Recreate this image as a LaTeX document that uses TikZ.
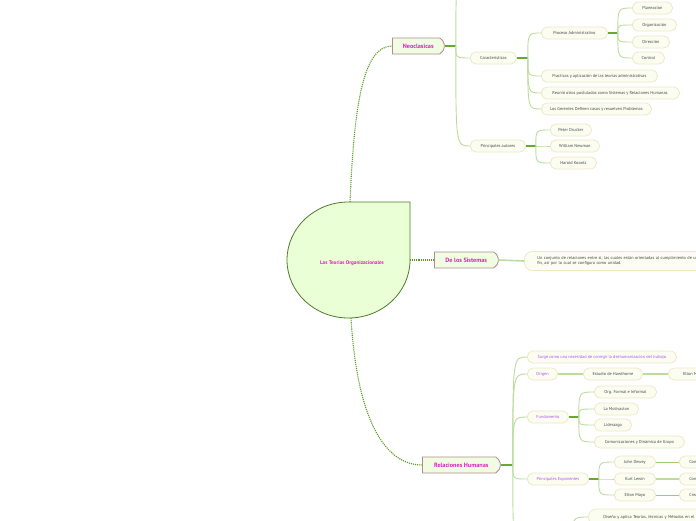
\documentclass[tikz,border=0pt]{standalone}
\usepackage{fontspec}
\setmainfont{PT Sans}
\usetikzlibrary{shapes.misc}
\definecolor{dotg}{HTML}{5A9A1E}
\definecolor{stubg}{HTML}{6AA830}
\definecolor{liteg}{HTML}{BCDC9C}
\definecolor{midg}{HTML}{9CCB70}
\definecolor{cfill}{HTML}{EAFFD6}
\definecolor{cborder}{HTML}{4E7A2E}
\definecolor{lfill}{HTML}{F0FDE2}
\definecolor{lborder}{HTML}{B08C8C}
\definecolor{magt}{HTML}{E020C0}
\definecolor{leaffill}{HTML}{FAFDF0}
\definecolor{leafborder}{HTML}{EEE8C6}
\definecolor{leaftext}{HTML}{484848}
\definecolor{purt}{HTML}{B050F0}
\tikzset{
  lone/.style={rounded rectangle, rounded rectangle left arc=none, rounded rectangle arc length=120,
    draw=lborder, fill=lfill, line width=0.8pt, minimum height=16pt, inner sep=0pt, anchor=west,
    text=magt, font=\fontsize{6.2}{7}\selectfont\bfseries},
  leaf/.style={rectangle, rounded corners=5.5pt, draw=leafborder, fill=leaffill, line width=0.8pt,
    minimum height=12pt, inner sep=0pt, anchor=west, text=leaftext, font=\fontsize{4.3}{5}\selectfont},
  pleaf/.style={leaf, text=purt},
  mainc/.style={draw=dotg, line width=1.1pt, densely dotted},
  stub/.style={draw=stubg, line width=1.6pt},
  lite/.style={draw=liteg, line width=0.9pt},
  liteth/.style={draw=liteg, line width=1.6pt},
  medl/.style={draw=midg, line width=1pt},
}
\begin{document}
\begin{tikzpicture}[x=1pt,y=-1pt]
\useasboundingbox (0,0) rectangle (696,520);
\clip (0,0) rectangle (696,520);
% central shape
\draw[draw=cborder, fill=cfill, line width=0.8pt] (410,202) -- (410,260)
  arc[start angle=0, end angle=270, x radius=61.5, y radius=58] -- cycle;
\node[text=magt, font=\fontsize{5.2}{6}\selectfont\bfseries, inner sep=0pt] (center) at (352,263) {Las Teorias Organizacionales};
\coordinate (ctop) at (350,202);
\coordinate (cright) at (410,260);
\coordinate (cbot) at (351,318);

% level 1
\node[lone, minimum width=52pt] (neo) at (392,46) {Neoclasicas};
\node[lone, minimum width=64pt] (sis) at (434,260) {De los Sistemas};
\node[lone, minimum width=78pt] (rh) at (422,465) {Relaciones Humanas};

\draw[mainc] (ctop) .. controls (354,110) and (362,46) .. (neo.west);
\draw[mainc] (cright) -- (sis.west);
\draw[mainc] (cbot) .. controls (357,420) and (385,465) .. (rh.west);

% Neoclasicas branch
\node[leaf, minimum width=46pt] (car) at (470,58) {Caracteristicas};
\node[leaf, minimum width=55pt] (pa) at (470,146) {Principales autores};
\node[leaf, minimum width=66pt] (proc) at (541,33) {Proceso Administrativo};
\node[leaf, minimum width=116pt] (prac) at (541,76) {Practicas y aplicación de las teorías administrativas};
\node[leaf, minimum width=138pt] (reun) at (541,93) {Reunió otros postulados como Sistemas y Relaciones Humanas.};
\node[leaf, minimum width=110pt] (ger) at (541,109) {Los Gerentes Definen casos y resuelven Problemas};
\node[leaf, minimum width=40pt] (plan) at (632,8) {Planeacion};
\node[leaf, minimum width=44pt] (org) at (632,25) {Organización};
\node[leaf, minimum width=37pt] (dir) at (632,42) {Dirección};
\node[leaf, minimum width=32pt] (ctrl) at (632,58) {Control};
\node[leaf, minimum width=41pt] (pd) at (550,130) {Peter Drucker};
\node[leaf, minimum width=49pt] (wn) at (550,146) {William Newman};
\node[leaf, minimum width=46pt] (hk) at (550,163) {Harold Koontz};

\coordinate (neoUp) at (472,-24);
\draw[stub] (neo.east) -- ++(11,0) coordinate (neoB);
\draw[lite] (neoB) .. controls (neoB |- neoUp) .. (neoUp);
\draw[lite] (neoB) .. controls (neoB |- car.west) .. (car.west);
\draw[lite] (neoB) .. controls (neoB |- pa.west) .. (pa.west);

\draw[stub] (car.east) -- ++(11,0) coordinate (carB);
\foreach \n in {proc,prac,reun,ger}
  \draw[lite] (carB) .. controls (carB |- \n.west) .. (\n.west);
\draw[stub] (proc.east) -- ++(10,0) coordinate (procB);
\foreach \n in {plan,org,dir,ctrl}
  \draw[lite] (procB) .. controls (procB |- \n.west) .. (\n.west);
\draw[stub] (pa.east) -- ++(10,0) coordinate (paB);
\foreach \n in {pd,wn,hk}
  \draw[lite] (paB) .. controls (paB |- \n.west) .. (\n.west);

% De los Sistemas
\node[leaf, rounded corners=8pt, minimum height=19pt, align=left, text width=204pt, inner xsep=13pt] (sisd) at (524,261)
  {Un conjunto de relaciones entre sí, las cuales están orientadas al cumplimiento de un\\fin, así por lo cual se configura como unidad.};
\draw[liteth] (sis.east) -- (sisd.west);

% Relaciones Humanas branch
\node[pleaf, minimum width=149pt] (surge) at (527,357) {Surge como una necesidad de corregir la deshumanización del trabajo};
\node[pleaf, minimum width=30pt] (origen) at (527,374) {Origen};
\node[leaf, minimum width=59pt] (haw) at (583,374) {Estudio de Hawthorne};
\node[leaf, minimum width=50pt] (em1) at (668,374) {Elton Mayo};
\node[pleaf, minimum width=41pt] (fund) at (527,417) {Fundamento};
\node[leaf, minimum width=62pt] (ofi) at (594,392) {Org. Formal e Informal};
\node[leaf, minimum width=44pt] (mot) at (594,409) {La Motivacion};
\node[leaf, minimum width=37pt] (lid) at (594,425) {Liderazgo};
\node[leaf, minimum width=90pt] (com) at (594,442) {Comunicaciones y Dinámica de Grupo};
\node[pleaf, minimum width=61pt] (pe) at (527,479) {Principales Exponentes};
\node[leaf, minimum width=41pt] (jd) at (614,462) {John Dewey};
\node[leaf, minimum width=41pt] (kl) at (614,479) {Kurt Lewin};
\node[leaf, minimum width=41pt] (em2) at (614,495) {Elton Mayo};
\node[leaf, minimum width=60pt, align=left, text width=50pt, inner xsep=10pt] (jdc) at (679,462) {Conocimiento};
\node[leaf, minimum width=60pt, align=left, text width=50pt, inner xsep=10pt] (klc) at (679,479) {Contexto};
\node[leaf, minimum width=60pt, align=left, text width=50pt, inner xsep=10pt] (emc) at (679,495) {Creatividad};
\node[leaf, rounded corners=8pt, minimum width=200pt, minimum height=16pt, align=left, text width=170pt, inner xsep=14pt] (bb) at (588,517)
  {Diseña y aplica Teorías, técnicas y Métodos en el};

\coordinate (rhDown) at (528,548);
\coordinate (bbIn) at (572,548);
\draw[stub] (rh.east) -- ++(12,0) coordinate (rhB);
\foreach \n in {surge,origen,fund,pe}
  \draw[lite] (rhB) .. controls (rhB |- \n.west) .. (\n.west);
\draw[lite] (rhB) .. controls (rhB |- rhDown) .. (rhDown);
\draw[lite] (bbIn) .. controls (bbIn |- bb.west) .. (bb.west);
\draw[liteth] (origen.east) -- (haw.west);
\draw[liteth] (haw.east) -- (em1.west);
\draw[stub] (fund.east) -- ++(10,0) coordinate (fundB);
\foreach \n in {ofi,mot,lid,com}
  \draw[lite] (fundB) .. controls (fundB |- \n.west) .. (\n.west);
\draw[stub] (pe.east) -- ++(10,0) coordinate (peB);
\foreach \n in {jd,kl,em2}
  \draw[lite] (peB) .. controls (peB |- \n.west) .. (\n.west);
\draw[medl] (jd.east) -- (jdc.west);
\draw[liteth] (kl.east) -- (klc.west);
\draw[medl] (em2.east) -- (emc.west);
\end{tikzpicture}
\end{document}
